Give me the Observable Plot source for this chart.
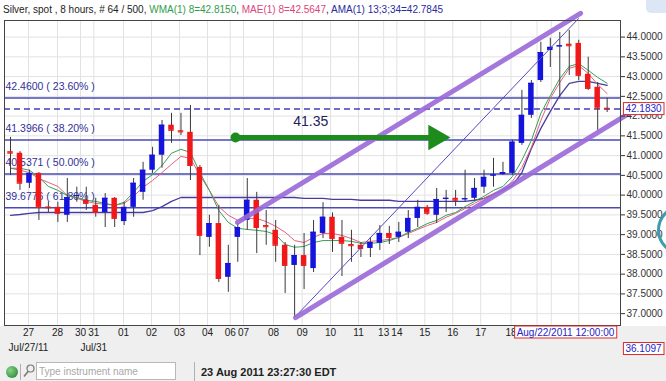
<!DOCTYPE html>
<html><head><meta charset="utf-8">
<script src="https://cdn.jsdelivr.net/npm/d3@7"></script>
<script src="https://cdn.jsdelivr.net/npm/@observablehq/plot@0.6"></script>
<style>
html,body{margin:0;padding:0;width:666px;height:381px;overflow:hidden;background:#efefef;font-family:"Liberation Sans",Arial,sans-serif;}
#wrap{position:relative;width:666px;height:381px;overflow:hidden;}
#white{position:absolute;left:0;top:0;width:666px;height:326px;background:#fff;}
#chart{position:absolute;left:0;top:0;}
#title{position:absolute;left:3px;top:4px;font-size:10px;line-height:12px;white-space:nowrap;color:#222;}
#blob{position:absolute;left:646px;top:-6px;width:30px;height:19px;background:#dde6f4;border-radius:5px;}
#ring{position:absolute;left:657px;top:205px;width:44px;height:44px;border:3px solid #3c9cac;border-radius:50%;}
.f{position:absolute;}
#dot{left:6px;top:366px;width:12px;height:12px;border-radius:50%;background:radial-gradient(circle at 35% 35%,#86d486,#1f7a2a);}
#sep1{left:20px;top:364px;width:1px;height:16px;background:#b0b0b0;}
#mag{left:23px;top:364px;}
#inp{left:36px;top:362px;width:140px;height:18px;border:1px solid #b8b8b8;background:#fff;font-size:10px;line-height:18px;color:#a8a8a8;padding-left:2px;box-sizing:border-box;}
#sep2{left:194px;top:362px;width:1px;height:19px;background:#b0b0b0;}
#clock{left:201px;top:366px;font-size:11px;font-weight:bold;color:#222;white-space:nowrap;}
</style></head><body>
<div id="wrap">
<div id="white"></div>
<div id="blob"></div>
<div id="chart"></div>
<div id="title"></div>
<div id="ring"></div>
<div class="f" id="dot"></div>
<div class="f" id="sep1"></div>
<svg class="f" id="mag" width="12" height="14"><circle cx="7.5" cy="4.5" r="3.5" fill="none" stroke="#777" stroke-width="1.2"/><line x1="5" y1="7.5" x2="1" y2="12.5" stroke="#777" stroke-width="1.5"/></svg>
<div class="f" id="inp">Type instrument name</div>
<div class="f" id="sep2"></div>
<div class="f" id="clock">23 Aug 2011 23:27:30 EDT</div>
</div>
<script>
// ---- data ----
const instrument = "Silver, spot , 8 hours, # 64 / 500, ";
const legendNames = ["WMA(1) 8", "MAE(1) 8", "AMA(1) 13;3;34"];
const legendValues = [42.8150, 42.5647, 42.7845];
const legendColors = ["#2f9e4c", "#e0457a", "#2a2a9e"];

const opens  = [41.10,41.06,40.30,40.55,39.70,39.69,39.49,39.97,39.87,39.74,39.56,39.92,39.33,39.69,40.07,40.63,41.01,41.77,41.63,41.59,40.70,38.93,39.28,37.92,38.93,39.36,39.87,39.23,39.11,38.73,38.22,38.47,38.14,39.03,39.44,38.93,38.75,38.73,38.65,38.78,39.03,38.93,39.06,39.41,39.69,39.49,39.89,39.92,39.88,39.92,40.20,40.48,40.52,40.55,41.31,42.02,42.90,43.66,43.75,43.82,43.84,43.06,42.73,42.20];
const highs  = [41.46,41.10,40.63,40.57,39.82,39.82,40.42,40.20,40.20,39.92,40.04,39.94,39.82,40.42,40.83,41.21,41.89,42.07,42.07,42.27,40.75,39.49,39.74,38.73,39.28,40.42,40.07,39.61,39.36,38.80,38.73,39.03,39.36,39.81,39.55,39.36,39.11,38.80,38.93,39.23,39.21,39.31,39.61,39.87,39.74,40.17,40.12,40.12,40.63,40.42,40.63,40.93,40.83,41.39,42.65,42.90,43.87,43.97,44.12,44.17,43.92,43.49,42.85,42.45];
const lows   = [40.50,40.12,40.17,39.36,39.56,39.31,39.31,39.82,39.61,39.44,39.18,39.18,39.23,39.44,39.87,40.55,40.68,41.31,41.51,40.37,38.47,38.68,37.79,37.54,38.30,39.11,38.52,38.73,38.30,37.51,36.91,37.61,38.04,38.90,38.55,37.94,38.30,38.42,38.42,38.60,38.75,38.80,38.90,39.18,39.49,39.28,39.56,39.71,39.82,39.87,40.04,40.20,40.50,40.50,41.26,41.94,42.85,43.23,42.47,43.03,42.90,42.65,41.64,42.09];
const closes = [41.06,40.30,40.55,39.69,39.68,39.54,39.94,39.99,39.79,39.56,39.92,39.41,39.69,40.30,40.63,41.01,41.77,41.64,41.60,40.75,38.98,39.28,37.89,38.27,39.18,39.87,39.18,39.20,38.73,38.22,38.47,38.22,39.06,39.44,38.90,38.78,38.72,38.65,38.80,39.03,38.93,39.06,39.41,39.69,39.54,39.89,39.92,39.87,39.91,40.17,40.45,40.51,40.57,41.34,42.02,42.83,43.61,43.74,43.78,43.78,43.03,42.70,42.20,42.183];

const wma = [40.68,40.68,40.63,40.45,40.22,40.12,39.99,39.94,39.87,39.84,39.79,39.74,39.82,40.07,40.35,40.52,40.75,41.06,41.16,41.08,40.57,40.12,39.61,39.31,39.16,39.13,39.11,39.08,39.00,38.75,38.68,38.70,38.80,38.85,38.85,38.85,38.83,38.78,38.78,38.80,38.85,38.93,39.06,39.16,39.28,39.36,39.49,39.56,39.71,39.84,39.97,40.12,40.22,40.47,40.88,41.39,42.07,42.52,42.95,43.26,43.33,43.16,42.98,42.83];
const mae = [40.68,40.63,40.57,40.42,40.32,40.22,39.99,39.92,39.84,39.79,39.77,39.74,39.79,39.97,40.20,40.37,40.57,40.78,40.98,40.93,40.50,40.12,39.71,39.49,39.36,39.41,39.41,39.33,39.21,39.06,38.85,38.80,38.93,39.03,39.03,38.98,38.90,38.80,38.83,38.85,38.88,38.93,39.03,39.13,39.23,39.31,39.44,39.54,39.66,39.79,39.92,40.04,40.14,40.35,40.70,41.21,41.89,42.45,42.85,43.21,43.28,43.08,42.80,42.57];
const ama = [39.49,39.51,39.54,39.56,39.56,39.56,39.56,39.56,39.56,39.56,39.56,39.56,39.56,39.56,39.56,39.61,39.71,39.84,39.94,39.94,39.94,39.94,39.94,39.94,39.94,39.94,39.94,39.94,39.94,39.94,39.94,39.92,39.92,39.92,39.89,39.89,39.89,39.87,39.87,39.87,39.87,39.84,39.84,39.84,39.84,39.84,39.84,39.84,39.84,39.87,39.92,40.02,40.12,40.25,40.57,41.18,41.69,42.12,42.52,42.83,42.88,42.88,42.83,42.78];

const fibLevels = [42.4600, 41.3966, 40.5371, 39.6776];
const fibPercents = ["23.60%", "38.20%", "50.00%", "61.80%"];
const lastPrice = 42.1830;
const cursorPrice = 36.1097;
const cursorTime = "Aug/22/2011 12:00:00";
const cursorCandle = 58.6;

const priceTicks = [37,37.5,38,38.5,39,39.5,40,40.5,41,41.5,42,42.5,43,43.5,44];
const dayLabels = ["27","28","30","31","01","02","03","04","06","07","08","09","10","11","13","14","15","16","17","18"];
const dayAt     = [1.9,4.96,7.39,8.8,11.93,14.89,17.85,20.8,23.2,24.6,27.77,30.8,33.8,36.75,39.4,40.8,43.75,46.7,49.65,52.85];
const hiddenDayAt = [55.6, 57.1, 60.0]; // days 19, 21, 22: grid lines under the cursor box
const monthLabels = [{day: "27", text: "Jul/27/11"}, {day: "31", text: "Jul/31"}];

// channel / trend annotations (candle index, price)
const trendThick = [
  {name: "upper", i: 23.97, p: 39.31}, {name: "upper", i: 60.19, p: 44.60},
  {name: "lower", i: 30.1, p: 36.90}, {name: "lower", i: 66.0, p: 42.17}
];
const trendThin = [{i: 30.1, p: 36.93}, {i: 59.98, p: 44.47}];
const arrowLine = [{i: 23.76, p: 41.46}, {i: 44.5, p: 41.46}];
const arrowHead = [{i: 44.9, p: 41.46}];
const arrowText = [{i: 31.7, p: 41.86, text: "41.35"}];

// ---- build ----
const candles = closes.map((c, i) => ({i, o: opens[i], h: highs[i], l: lows[i], c, wma: wma[i], mae: mae[i], ama: ama[i]}));
const up = "#1414dc", down = "#f01818";
const col = d => d.c >= d.o ? up : down;
const ticks = dayLabels.map((t, k) => ({at: dayAt[k], label: t}));
const gridX = dayAt.concat(hiddenDayAt);
const months = monthLabels.map(m => ({at: dayAt[dayLabels.indexOf(m.day)], text: m.text}));
const fibs = fibLevels.map((v, k) => ({v, label: `${v.toFixed(4)} ( ${fibPercents[k]} )`}));

document.getElementById("title").innerHTML =
  `<span>${instrument}</span>` + legendNames.map((n, k) =>
    `<span style="color:${legendColors[k]}">${n}=${legendValues[k].toFixed(4)}</span>`).join("<span>, </span>");

const chart = Plot.plot({
  width: 666, height: 360,
  marginTop: 20, marginBottom: 35, marginLeft: 4, marginRight: 46,
  style: {background: "transparent", fontFamily: "Liberation Sans, Arial, sans-serif", fontSize: "10px", color: "#333", overflow: "visible"},
  x: {domain: [-0.634, 64.41], axis: null},
  y: {domain: [36.70, 44.42], label: null},
  marks: [
    Plot.ruleY(priceTicks, {stroke: "#e2e2e2"}),
    Plot.ruleX(gridX, {stroke: "#e2e2e2"}),
    Plot.text(fibs, {y: "v", text: "label", frameAnchor: "left", textAnchor: "start", dx: 1, dy: -11, fill: "#30309a", fontSize: 10.5}),
    Plot.ruleY(fibLevels, {stroke: "#4a4ab8", strokeWidth: 1.5}),
    Plot.ruleY([lastPrice], {stroke: "#4040b8", strokeWidth: 1.5, strokeDasharray: "6,4"}),
    Plot.line(candles, {x: "i", y: "ama", stroke: "#4a3c9e", strokeWidth: 1.3}),
    Plot.line(candles, {x: "i", y: "mae", stroke: "#e2607e", strokeWidth: 1}),
    Plot.line(candles, {x: "i", y: "wma", stroke: "#3a9e55", strokeWidth: 1}),
    Plot.ruleX(candles, {x: "i", y1: "l", y2: "h", stroke: "#3a3a3a", strokeWidth: 1}),
    Plot.rect(candles, {x1: d => d.i - 0.29, x2: d => d.i + 0.29, y1: "o", y2: "c", fill: col}),
    Plot.ruleY(candles, {x1: d => d.i - 0.29, x2: d => d.i + 0.29, y: "c", stroke: col}),
    Plot.line(trendThin, {x: "i", y: "p", stroke: "#5548c4", strokeWidth: 1}),
    Plot.line(trendThick, {x: "i", y: "p", z: "name", stroke: "#9a68d8", strokeWidth: 5, strokeOpacity: 0.9, strokeLinecap: "round"}),
    Plot.line(arrowLine, {x: "i", y: "p", stroke: "#1d8c1d", strokeWidth: 5}),
    Plot.dot(arrowLine.slice(0, 1), {x: "i", y: "p", r: 5, fill: "#1d8c1d"}),
    Plot.dot(arrowHead, {x: "i", y: "p", symbol: "triangle", r: 9.5, rotate: 90, fill: "#1d8c1d"}),
    Plot.text(arrowText, {x: "i", y: "p", text: "text", fontSize: 14, fill: "#22225a"}),
    Plot.frame({stroke: "#444"}),
    Plot.axisY({anchor: "right", ticks: priceTicks, tickFormat: d => d.toFixed(4), tickSize: 4, tickPadding: 2, fontSize: 10, color: "#333", label: null}),
    Plot.text(ticks, {x: "at", text: "label", frameAnchor: "bottom", dy: 10, fill: "#222"}),
    Plot.text(months, {x: "at", text: "text", frameAnchor: "bottom", dy: 25.5, fill: "#222"}),
    Plot.text([cursorTime], {x: () => cursorCandle, text: d => d, frameAnchor: "bottom", dy: 10, fill: "#2323c8", ariaDescription: "boxed"}),
    Plot.text([lastPrice], {y: d => d, text: d => d.toFixed(4), frameAnchor: "right", textAnchor: "middle", dx: 23, fill: "#2323c8", ariaDescription: "boxed"}),
    Plot.text([cursorPrice], {y: d => d, text: d => d.toFixed(4), frameAnchor: "right", textAnchor: "middle", dx: 23, fill: "#2323c8", ariaDescription: "boxed"})
  ]
});
document.getElementById("chart").append(chart);
d3.select(chart).selectAll('g[aria-description="boxed"] text').each(function() {
  const b = this.getBBox();
  d3.select(this.parentNode).insert("rect", () => this)
    .attr("x", b.x - 2).attr("y", b.y - 0.5).attr("width", b.width + 4).attr("height", b.height + 1)
    .attr("transform", this.getAttribute("transform"))
    .attr("fill", "#fff").attr("stroke", "#e02828").attr("stroke-width", 1);
});
</script>
</body></html>
